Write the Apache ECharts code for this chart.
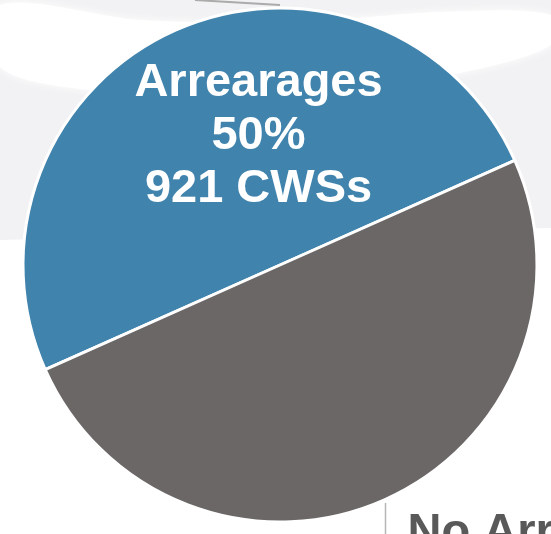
<!DOCTYPE html>
<html>
<head>
<meta charset="utf-8">
<script src="https://cdn.jsdelivr.net/npm/echarts@6/dist/echarts.min.js"></script>
<style>
  html, body { margin: 0; padding: 0; background: #ffffff; }
  #main { width: 551px; height: 534px; }
</style>
</head>
<body>
<div id="main"></div>
<script>
var myChart = echarts.init(document.getElementById("main"));

// data
var categories = ["Arrearages", "No Arrearages"];
var counts = [921, 921];
var percents = ["50%", "50%"];
var colors = ["#4083ad", "#6b6766"];

var pieData = categories.map(function (name, i) {
    return {
        name: name,
        value: counts[i],
        itemStyle: { color: colors[i] },
    };
});

// 标签: 蓝色在内部, 灰色在右下角(被截断)
pieData[0].label = {
    position: "inside",
    offset: [32, -9],
    color: "#ffffff",
    fontSize: 47,
    fontWeight: "bold",
    lineHeight: 53,
    fontFamily: "Liberation Sans, Arial, sans-serif",
};
pieData[1].label = {
    position: "inside",
    offset: [236, 201],
    color: "#595959",
    fontSize: 47,
    fontWeight: "bold",
    lineHeight: 53,
    fontFamily: "Liberation Sans, Arial, sans-serif",
};

var option = {
    backgroundColor: "#ffffff",
    animation: false,
    graphic: [
        // 背景的浅灰色区域
        {
            type: "polygon",
            z: -10,
            shape: { points: [[0, 0], [551, 0], [551, 228], [300, 232], [0, 240]] },
            style: { fill: "#f2f2f4" },
        },
        {
            type: "polygon",
            z: -9,
            shape: {
                points: [[0, 5], [140, 20], [300, 22], [440, 12], [551, 15],
                         [551, 45], [460, 73], [300, 100], [90, 90], [0, 67]],
                smooth: 0.3,
            },
            style: { fill: "#ffffff", shadowBlur: 8, shadowColor: "#ffffff" },
        },
        {
            type: "line",
            z: -8,
            shape: { x1: 195, y1: 0, x2: 280, y2: 5 },
            style: { stroke: "#999999", lineWidth: 2, opacity: 0.8 },
        },
        {
            type: "line",
            z: 10,
            shape: { x1: 385.5, y1: 503, x2: 385.5, y2: 534 },
            style: { stroke: "#b5b5b5", lineWidth: 1.5 },
        },
    ],
    series: [
        {
            type: "pie",
            center: [280, 265],
            radius: 257,
            startAngle: 204,
            clockwise: true,
            silent: true,
            itemStyle: {
                borderColor: "#ffffff",
                borderWidth: 3,
            },
            label: {
                show: true,
                formatter: function (p) {
                    return p.name + "\n" + percents[p.dataIndex] + "\n" + p.value + " CWSs";
                },
            },
            labelLine: { show: false },
            data: pieData,
        },
    ],
};
myChart.setOption(option);
</script>
</body>
</html>
